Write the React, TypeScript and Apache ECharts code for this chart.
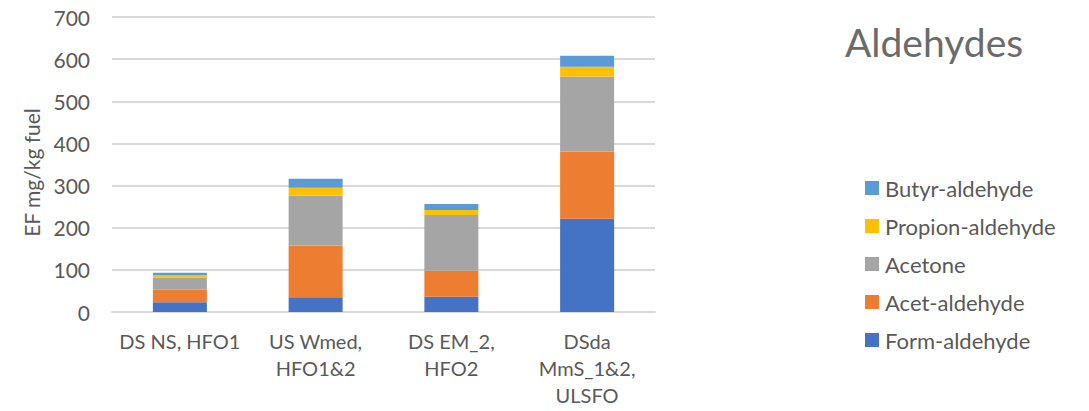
import React, { useEffect, useRef } from "react";
import * as echarts from "echarts";

const categories = [
  "DS NS, HFO1",
  "US Wmed,\nHFO1&2",
  "DS EM_2,\nHFO2",
  "DSda\nMmS_1&2,\nULSFO",
];
const seriesNames = [
  "Form-aldehyde",
  "Acet-aldehyde",
  "Acetone",
  "Propion-aldehyde",
  "Butyr-aldehyde",
];
const formAldehyde = [23, 35, 36, 221];
const acetAldehyde = [30, 123, 62, 160];
const acetone = [28, 118, 132, 178];
const propionAldehyde = [7, 19, 12, 23];
const butyrAldehyde = [5, 21, 14, 26];
const colors = ["#4472C4", "#ED7D31", "#A5A5A5", "#FFC000", "#5B9BD5"];
const yTicks = { min: 0, max: 700, interval: 100 };

const FONT = "Lato, 'Open Sans', sans-serif";
const TEXT = "#595959";

export default function App() {
  const ref = useRef<HTMLDivElement>(null);
  useEffect(() => {
    if (!ref.current) return;
    const chart = echarts.init(ref.current, undefined, { renderer: "svg" });
    const values = [formAldehyde, acetAldehyde, acetone, propionAldehyde, butyrAldehyde];
    chart.setOption({
      animation: false,
      textStyle: { fontFamily: FONT },
      title: {
        text: "Aldehydes",
        left: 840,
        top: 17,
        textStyle: { fontFamily: FONT, fontSize: 39, fontWeight: "normal", color: "#6b6b6b" },
      },
      legend: {
        orient: "vertical",
        left: 865,
        top: 177,
        padding: 0,
        itemWidth: 14,
        itemHeight: 14,
        itemGap: 16,
        icon: "rect",
        data: [...seriesNames].reverse(),
        textStyle: { fontFamily: FONT, fontSize: 22, color: TEXT, padding: [0, 0, 0, 1] },
      },
      grid: { left: 112, right: 1089 - 655, top: 17, bottom: 99, outerBoundsMode: "none" },
      xAxis: {
        type: "category",
        data: categories,
        axisLine: { lineStyle: { color: "#d9d9d9", width: 2 } },
        axisTick: { show: false },
        axisLabel: {
          color: TEXT,
          fontFamily: FONT,
          fontSize: 20,
          lineHeight: 27,
          margin: 15,
          interval: 0,
        },
      },
      yAxis: {
        type: "value",
        min: yTicks.min,
        max: yTicks.max,
        interval: yTicks.interval,
        name: "EF mg/kg fuel",
        nameLocation: "middle",
        nameGap: 70,
        nameTextStyle: { color: TEXT, fontFamily: FONT, fontSize: 21, padding: [0, 16, 0, 0] },
        axisLine: { show: false },
        axisTick: { show: false },
        splitLine: { lineStyle: { color: "#d9d9d9", width: 2 } },
        axisLabel: { color: TEXT, fontFamily: FONT, fontSize: 21, margin: 22 },
      },
      series: seriesNames.map((name, i) => ({
        name,
        type: "bar",
        stack: "total",
        barWidth: 54,
        itemStyle: { color: colors[i] },
        data: values[i],
      })),
    });
    return () => chart.dispose();
  }, []);
  return (
    <div
      ref={ref}
      style={{ position: "absolute", left: 0, top: 0, width: 1089, height: 411 }}
    />
  );
}
